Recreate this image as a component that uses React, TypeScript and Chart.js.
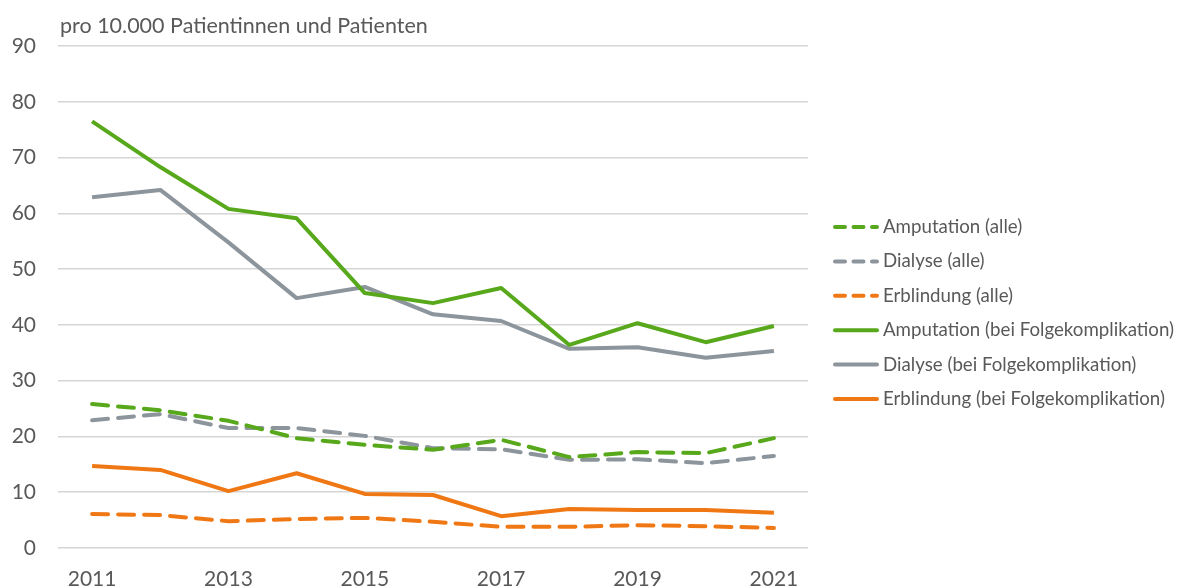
import React, { useEffect, useRef } from "react";
import { Chart, registerables } from "chart.js";

Chart.register(...registerables);

const years = ["2011", "2012", "2013", "2014", "2015", "2016", "2017", "2018", "2019", "2020", "2021"];

const amputationAlle = [25.8, 24.7, 22.8, 19.7, 18.5, 17.6, 19.4, 16.3, 17.2, 17.0, 19.7];
const dialyseAlle = [22.9, 24.0, 21.5, 21.5, 20.1, 17.9, 17.7, 15.8, 15.9, 15.2, 16.5];
const erblindungAlle = [6.1, 5.9, 4.8, 5.2, 5.4, 4.7, 3.8, 3.8, 4.1, 3.9, 3.6];
const amputationBei = [76.5, 68.3, 60.8, 59.1, 45.7, 43.9, 46.6, 36.4, 40.3, 36.9, 39.8];
const dialyseBei = [62.9, 64.2, 54.8, 44.8, 46.8, 41.9, 40.7, 35.7, 36.0, 34.1, 35.3];
const erblindungBei = [14.7, 14.0, 10.2, 13.4, 9.7, 9.5, 5.7, 7.0, 6.8, 6.8, 6.3];

const seriesLabels = [
  "Amputation (alle)",
  "Dialyse (alle)",
  "Erblindung (alle)",
  "Amputation (bei Folgekomplikation)",
  "Dialyse (bei Folgekomplikation)",
  "Erblindung (bei Folgekomplikation)",
];

const GREEN = "#58a81c";
const GRAY = "#8c949c";
const ORANGE = "#f07814";
const TEXT = "#595959";
const FONT = "Lato, 'Open Sans', sans-serif";
const titleText = "pro 10.000 Patientinnen und Patienten";

export default function App() {
  const ref = useRef<HTMLCanvasElement | null>(null);

  useEffect(() => {
    if (!ref.current) return;
    const mk = (label: string, data: number[], color: string, dashed: boolean) => ({
      label,
      data,
      borderColor: color,
      backgroundColor: color,
      borderWidth: 4,
      borderDash: dashed ? [16, 10] : [],
      borderCapStyle: dashed ? "round" : "butt",
      borderJoinStyle: "round",
      pointRadius: 0,
      pointHoverRadius: 0,
      tension: 0,
      fill: false,
    });
    const titlePlugin = {
      id: "topTitle",
      afterDraw(chart: any) {
        const c = chart.ctx;
        c.save();
        c.font = `21.5px ${FONT}`;
        c.fillStyle = TEXT;
        c.textBaseline = "alphabetic";
        c.textAlign = "left";
        c.fillText(titleText, chart.chartArea.left + 2, 33);
        c.restore();
      },
    };
    const legendPlugin = {
      id: "sideLegend",
      afterDraw(chart: any) {
        const c = chart.ctx;
        const x0 = chart.chartArea.right + 27;
        const len = 42;
        c.save();
        chart.data.datasets.forEach((ds: any, i: number) => {
          const y = 227 + i * 34.4;
          const dashed = ds.borderDash && ds.borderDash.length > 0;
          c.beginPath();
          c.strokeStyle = ds.borderColor;
          c.lineWidth = 4;
          c.lineCap = "round";
          c.setLineDash(dashed ? [10, 8.5] : []);
          c.moveTo(x0, y);
          c.lineTo(x0 + len, y);
          c.stroke();
          c.setLineDash([]);
          c.font = `18.7px ${FONT}`;
          c.fillStyle = TEXT;
          c.textAlign = "left";
          c.textBaseline = "middle";
          c.fillText(ds.label, x0 + len + 6, y);
        });
        c.restore();
      },
    };
    const chart = new Chart(ref.current, {
      type: "line",
      data: {
        labels: years,
        datasets: [
          mk(seriesLabels[0], amputationAlle, GREEN, true),
          mk(seriesLabels[1], dialyseAlle, GRAY, true),
          mk(seriesLabels[2], erblindungAlle, ORANGE, true),
          mk(seriesLabels[3], amputationBei, GREEN, false),
          mk(seriesLabels[4], dialyseBei, GRAY, false),
          mk(seriesLabels[5], erblindungBei, ORANGE, false),
        ] as any,
      },
      options: {
        animation: false,
        responsive: false,
        maintainAspectRatio: false,
        layout: { padding: { top: 46, left: 12, right: 373, bottom: 0 } },
        plugins: {
          tooltip: { enabled: false },
          legend: { display: false },
        },
        scales: {
          x: {
            type: "category",
            offset: true,
            grid: { display: false },
            border: { display: false },
            afterFit: (s: any) => {
              s.height = 40;
            },
            ticks: {
              autoSkip: false,
              maxRotation: 0,
              padding: 13,
              color: TEXT,
              font: { size: 21, family: FONT, lineHeight: 1 },
              callback: (_v: any, i: number) => (i % 2 === 0 ? years[i] : ""),
            },
          },
          y: {
            min: 0,
            max: 90,
            border: { display: false },
            afterFit: (s: any) => {
              s.width = 46;
            },
            grid: {
              drawTicks: false,
              color: (c: any) => (c.tick && c.tick.value % 10 === 0 ? "#d6d6d6" : "#e6e6e6"),
              lineWidth: (c: any) => (c.tick && c.tick.value % 10 === 0 ? 1.5 : 1),
            },
            ticks: {
              stepSize: 5,
              padding: 22,
              color: TEXT,
              font: { size: 21, family: FONT },
              callback: (v: any) => (Number(v) % 10 === 0 ? String(v) : ""),
            },
          },
        },
      },
      plugins: [titlePlugin, legendPlugin],
    } as any);
    return () => chart.destroy();
  }, []);

  return (
    <div style={{ position: "fixed", left: 0, top: 0, width: 1181, height: 588, background: "#fff" }}>
      <canvas ref={ref} width={1181} height={588} style={{ width: 1181, height: 588 }} />
    </div>
  );
}
